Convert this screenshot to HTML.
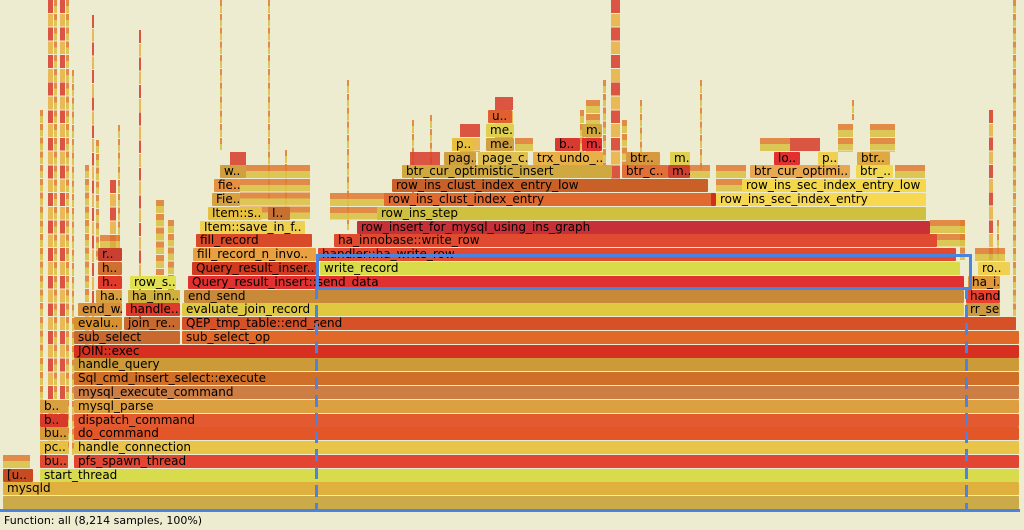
<!DOCTYPE html>
<html><head><meta charset="utf-8"><style>
body{margin:0;width:1024px;height:530px;background:#eeecd0;position:relative;overflow:hidden;font-family:"DejaVu Sans","Liberation Sans",sans-serif;}
.b{position:absolute;height:13px;font-size:12px;line-height:13px;color:#000;white-space:nowrap;overflow:hidden;padding-left:4px;box-sizing:border-box;border-radius:1px}
.s{position:absolute;opacity:.85;background:repeating-linear-gradient(to bottom,#e07a30 0,#e07a30 6px,#d9c040 6px,#d9c040 12.8px,#eeecd0 12.8px,#eeecd0 13.79px)}
.s2{position:absolute;opacity:.85;background:repeating-linear-gradient(to bottom,#d83a2a 0,#d83a2a 12.8px,#eeecd0 12.8px,#eeecd0 13.79px,#e8b040 13.79px,#e8b040 26.6px,#eeecd0 26.6px,#eeecd0 27.58px)}
</style></head><body>
<div class="s" style="left:40px;width:3px;top:110px;height:345px"></div>
<div class="s2" style="left:48px;width:5px;top:0px;height:455px"></div>
<div class="s" style="left:54px;width:3px;top:0px;height:455px"></div>
<div class="s2" style="left:60px;width:5px;top:0px;height:455px"></div>
<div class="s" style="left:66px;width:3px;top:0px;height:455px"></div>
<div class="s" style="left:72px;width:2px;top:70px;height:385px"></div>
<div class="s" style="left:85px;width:4px;top:165px;height:195px"></div>
<div class="s2" style="left:92px;width:2px;top:15px;height:330px"></div>
<div class="s" style="left:96px;width:3px;top:140px;height:120px"></div>
<div class="s2" style="left:110px;width:6px;top:180px;height:70px"></div>
<div class="s" style="left:118px;width:2px;top:125px;height:160px"></div>
<div class="s2" style="left:139px;width:2px;top:30px;height:300px"></div>
<div class="s" style="left:156px;width:8px;top:200px;height:75px"></div>
<div class="s" style="left:168px;width:6px;top:220px;height:75px"></div>
<div class="s" style="left:220px;width:2px;top:0px;height:150px"></div>
<div class="s" style="left:268px;width:2px;top:0px;height:200px"></div>
<div class="s" style="left:285px;width:2px;top:150px;height:70px"></div>
<div class="s" style="left:347px;width:2px;top:80px;height:150px"></div>
<div class="s" style="left:412px;width:2px;top:120px;height:80px"></div>
<div class="s" style="left:430px;width:2px;top:115px;height:60px"></div>
<div class="s2" style="left:495px;width:18px;top:97px;height:60px"></div>
<div class="s" style="left:580px;width:4px;top:110px;height:60px"></div>
<div class="s" style="left:586px;width:14px;top:100px;height:70px"></div>
<div class="s" style="left:603px;width:3px;top:80px;height:90px"></div>
<div class="s2" style="left:611px;width:9px;top:0px;height:180px"></div>
<div class="s" style="left:622px;width:5px;top:120px;height:50px"></div>
<div class="s" style="left:640px;width:2px;top:100px;height:60px"></div>
<div class="s" style="left:700px;width:2px;top:80px;height:90px"></div>
<div class="s" style="left:760px;width:30px;top:138px;height:14px"></div>
<div class="s2" style="left:790px;width:30px;top:138px;height:14px"></div>
<div class="s" style="left:838px;width:15px;top:124px;height:28px"></div>
<div class="s" style="left:870px;width:25px;top:124px;height:28px"></div>
<div class="s" style="left:852px;width:2px;top:100px;height:20px"></div>
<div class="s" style="left:960px;width:5px;top:220px;height:40px"></div>
<div class="s2" style="left:989px;width:4px;top:110px;height:150px"></div>
<div class="s" style="left:997px;width:2px;top:220px;height:40px"></div>
<div class="s" style="left:1013px;width:3px;top:0px;height:330px"></div>
<div class="s" style="left:3px;width:27px;top:455px;height:13px"></div>
<div class="s" style="left:100px;width:20px;top:235px;height:27px"></div>
<div class="s2" style="left:230px;width:16px;top:152px;height:14px"></div>
<div class="s" style="left:240px;width:70px;top:165px;height:55px"></div>
<div class="s2" style="left:410px;width:30px;top:152px;height:14px"></div>
<div class="s" style="left:330px;width:55px;top:193px;height:27px"></div>
<div class="s2" style="left:460px;width:20px;top:124px;height:28px"></div>
<div class="s" style="left:515px;width:18px;top:138px;height:14px"></div>
<div class="s" style="left:690px;width:20px;top:165px;height:14px"></div>
<div class="s" style="left:716px;width:30px;top:165px;height:27px"></div>
<div class="s" style="left:895px;width:30px;top:165px;height:14px"></div>
<div class="s" style="left:930px;width:35px;top:220px;height:27px"></div>
<div class="s" style="left:975px;width:30px;top:248px;height:13px"></div>

<div class="b" style="left:3px;width:1016px;top:496px;background:#cbaa4a"></div>
<div class="b" style="left:3px;width:1016px;top:482px;background:#e0b03e">mysqld</div>
<div class="b" style="left:3px;width:30px;top:469px;background:#c84a20">[u..</div>
<div class="b" style="left:40px;width:979px;top:469px;background:#d8dc4c">start_thread</div>
<div class="b" style="left:40px;width:28px;top:455px;background:#e04a30">bu..</div>
<div class="b" style="left:74px;width:945px;top:455px;background:#e24632">pfs_spawn_thread</div>
<div class="b" style="left:40px;width:28px;top:441px;background:#e8c040">pc..</div>
<div class="b" style="left:74px;width:945px;top:441px;background:#e8c448">handle_connection</div>
<div class="b" style="left:40px;width:28px;top:427px;background:#d89a38">bu..</div>
<div class="b" style="left:74px;width:945px;top:427px;background:#e25628">do_command</div>
<div class="b" style="left:40px;width:28px;top:414px;background:#d83a2a">b..</div>
<div class="b" style="left:74px;width:945px;top:414px;background:#e45a30">dispatch_command</div>
<div class="b" style="left:40px;width:28px;top:400px;background:#d8a040">b..</div>
<div class="b" style="left:74px;width:945px;top:400px;background:#dca040">mysql_parse</div>
<div class="b" style="left:74px;width:945px;top:386px;background:#cc7e44">mysql_execute_command</div>
<div class="b" style="left:74px;width:945px;top:372px;background:#d07028">Sql_cmd_insert_select::execute</div>
<div class="b" style="left:74px;width:945px;top:358px;background:#cc9a38">handle_query</div>
<div class="b" style="left:74px;width:945px;top:345px;background:#d83020">JOIN::exec</div>
<div class="b" style="left:74px;width:106px;top:331px;background:#c86a30">sub_select</div>
<div class="b" style="left:182px;width:837px;top:331px;background:#e06828">sub_select_op</div>
<div class="b" style="left:74px;width:48px;top:317px;background:#d8902c">evalu..</div>
<div class="b" style="left:124px;width:56px;top:317px;background:#c86a30">join_re..</div>
<div class="b" style="left:182px;width:834px;top:317px;background:#d65028">QEP_tmp_table::end_send</div>
<div class="b" style="left:78px;width:44px;top:303px;background:#d8903a">end_w..</div>
<div class="b" style="left:126px;width:54px;top:303px;background:#e03a2a">handle..</div>
<div class="b" style="left:182px;width:782px;top:303px;background:#e0c840">evaluate_join_record</div>
<div class="b" style="left:966px;width:34px;top:303px;background:#cc9a40">rr_se..</div>
<div class="b" style="left:96px;width:26px;top:290px;background:#d8a040">ha..</div>
<div class="b" style="left:128px;width:52px;top:290px;background:#d0b040">ha_inn..</div>
<div class="b" style="left:184px;width:780px;top:290px;background:#c88a38">end_send</div>
<div class="b" style="left:966px;width:34px;top:290px;background:#e84030">handl..</div>
<div class="b" style="left:98px;width:24px;top:276px;background:#e03a2a">h..</div>
<div class="b" style="left:130px;width:46px;top:276px;background:#e0e050">row_s..</div>
<div class="b" style="left:188px;width:776px;top:276px;background:#e03030">Query_result_insert::send_data</div>
<div class="b" style="left:968px;width:32px;top:276px;background:#e09838">ha_i..</div>
<div class="b" style="left:98px;width:24px;top:262px;background:#d07030">h..</div>
<div class="b" style="left:192px;width:124px;top:262px;background:#d03a20">Query_result_inser..</div>
<div class="b" style="left:320px;width:640px;top:262px;background:#d8dc48">write_record</div>
<div class="b" style="left:978px;width:32px;top:262px;background:#f0d050">ro..</div>
<div class="b" style="left:98px;width:24px;top:248px;background:#c84030">r..</div>
<div class="b" style="left:193px;width:123px;top:248px;background:#e8a040">fill_record_n_invo..</div>
<div class="b" style="left:318px;width:638px;top:248px;background:#e04a30">handler::ha_write_row</div>
<div class="b" style="left:196px;width:116px;top:234px;background:#d84a28">fill_record</div>
<div class="b" style="left:334px;width:603px;top:234px;background:#e04a30">ha_innobase::write_row</div>
<div class="b" style="left:200px;width:105px;top:221px;background:#f0d050">Item::save_in_f..</div>
<div class="b" style="left:357px;width:573px;top:221px;background:#c83038">row_insert_for_mysql_using_ins_graph</div>
<div class="b" style="left:208px;width:54px;top:207px;background:#e8c040">Item::s..</div>
<div class="b" style="left:268px;width:22px;top:207px;background:#c87030">I..</div>
<div class="b" style="left:377px;width:549px;top:207px;background:#d0c040">row_ins_step</div>
<div class="b" style="left:212px;width:28px;top:193px;background:#d8a040">Fie..</div>
<div class="b" style="left:384px;width:330px;top:193px;background:#e06a30">row_ins_clust_index_entry</div>
<div class="b" style="left:711px;width:5px;top:193px;background:#d03020"></div>
<div class="b" style="left:716px;width:210px;top:193px;background:#f8d850">row_ins_sec_index_entry</div>
<div class="b" style="left:214px;width:26px;top:179px;background:#e89040">fie..</div>
<div class="b" style="left:392px;width:316px;top:179px;background:#c86028">row_ins_clust_index_entry_low</div>
<div class="b" style="left:742px;width:184px;top:179px;background:#f4d84a">row_ins_sec_index_entry_low</div>
<div class="b" style="left:220px;width:26px;top:165px;background:#d0a040">w..</div>
<div class="b" style="left:402px;width:210px;top:165px;background:#d0a840">btr_cur_optimistic_insert</div>
<div class="b" style="left:622px;width:46px;top:165px;background:#e07038">btr_c..</div>
<div class="b" style="left:668px;width:22px;top:165px;background:#d04030">m..</div>
<div class="b" style="left:750px;width:100px;top:165px;background:#e8a850">btr_cur_optimi..</div>
<div class="b" style="left:856px;width:37px;top:165px;background:#f0d850">btr_..</div>
<div class="b" style="left:444px;width:32px;top:152px;background:#d0a040">pag..</div>
<div class="b" style="left:478px;width:50px;top:152px;background:#e0c050">page_c..</div>
<div class="b" style="left:533px;width:70px;top:152px;background:#e8b048">trx_undo_..</div>
<div class="b" style="left:626px;width:34px;top:152px;background:#d89840">btr..</div>
<div class="b" style="left:670px;width:20px;top:152px;background:#e0d050">m..</div>
<div class="b" style="left:774px;width:26px;top:152px;background:#e03030">lo..</div>
<div class="b" style="left:818px;width:20px;top:152px;background:#f0d050">p..</div>
<div class="b" style="left:857px;width:33px;top:152px;background:#e0a840">btr..</div>
<div class="b" style="left:452px;width:22px;top:138px;background:#e8c040">p..</div>
<div class="b" style="left:486px;width:28px;top:138px;background:#d0a040">me..</div>
<div class="b" style="left:555px;width:25px;top:138px;background:#d83a30">b..</div>
<div class="b" style="left:582px;width:20px;top:138px;background:#e03030">m..</div>
<div class="b" style="left:486px;width:28px;top:124px;background:#e0d050">me..</div>
<div class="b" style="left:582px;width:20px;top:124px;background:#d0a840">m..</div>
<div class="b" style="left:488px;width:24px;top:110px;background:#e06030">u..</div>

<div style="position:absolute;left:316px;top:254px;width:650px;height:30px;border:3px solid #4a84e0"></div>
<div style="position:absolute;left:315px;top:287px;width:3px;height:222px;background:repeating-linear-gradient(to bottom,#4a84e0 0,#4a84e0 12px,transparent 12px,transparent 18px)"></div>
<div style="position:absolute;left:965px;top:287px;width:3px;height:222px;background:repeating-linear-gradient(to bottom,#4a84e0 0,#4a84e0 12px,transparent 12px,transparent 18px)"></div>
<div style="position:absolute;left:0;top:509px;width:1020px;height:3px;background:#4a84e0"></div>
<div style="position:absolute;left:4px;top:514px;font-size:11px;color:#000">Function: all (8,214 samples, 100%)</div>
</body></html>
